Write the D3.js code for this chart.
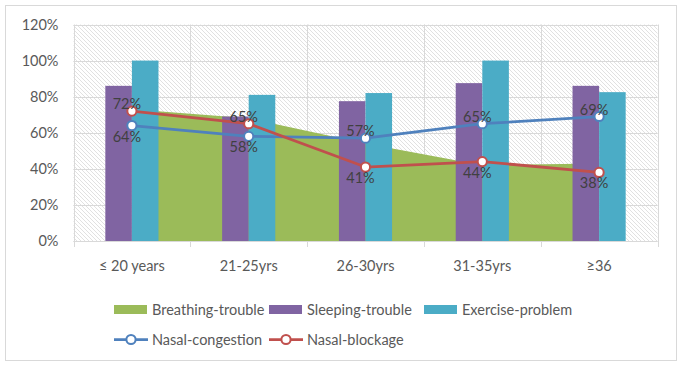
<!DOCTYPE html>
<html>
<head>
<meta charset="utf-8">
<script src="https://cdn.jsdelivr.net/npm/d3@7"></script>
<style>
  body { margin: 0; background: #fff; }
  svg text { font-family: Lato, "Open Sans", sans-serif; }
</style>
</head>
<body>
<svg id="chart" width="681" height="365"></svg>
<script>
// data
var categories = ["\u2264 20 years", "21-25yrs", "26-30yrs", "31-35yrs", "\u226536"];
var breathingTrouble = [0.73, 0.68, 0.54, 0.42, 0.43];
var sleepingTrouble = [0.86, 0.69, 0.775, 0.875, 0.86];
var exerciseProblem = [1.0, 0.81, 0.82, 1.0, 0.825];
var nasalCongestion = [0.64, 0.58, 0.57, 0.65, 0.69];
var nasalBlockage = [0.72, 0.65, 0.41, 0.44, 0.38];
var yTicks = [0, 0.2, 0.4, 0.6, 0.8, 1.0, 1.2];
var congestionLabelPos = ["below", "below", "above", "above", "above"];
var blockageLabelPos = ["above", "above", "below", "below", "below"];

function drawChart() {
    var colors = {
        breathing: "#9BBB59",
        sleeping: "#8064A2",
        exercise: "#4BACC6",
        congestion: "#4F81BD",
        blockage: "#C0504D"
    };

    var svg = d3.select("#chart");
    var plotLeft = 73.5, plotRight = 657.5, plotTop = 24.5, plotBottom = 241;
    var fontSize = 14.5;

    // outer chart border
    svg.append("rect")
        .attr("x", 5.5).attr("y", 5.5)
        .attr("width", 671).attr("height", 355)
        .attr("fill", "#fff")
        .attr("stroke", "#D9D9D9");

    // hatched plot background
    var pat = svg.append("defs").append("pattern")
        .attr("id", "hatch")
        .attr("patternUnits", "userSpaceOnUse")
        .attr("width", 4).attr("height", 4);
    pat.append("rect").attr("width", 4).attr("height", 4).attr("fill", "#fff");
    pat.append("path")
        .attr("d", "M-1,-1 L5,5 M-1,3 L1,5 M3,-1 L5,1")
        .attr("stroke", "#DEDEDE")
        .attr("stroke-width", 0.9);

    svg.append("rect")
        .attr("x", plotLeft).attr("y", plotTop)
        .attr("width", plotRight - plotLeft).attr("height", plotBottom - plotTop)
        .attr("fill", "url(#hatch)");

    var x0 = d3.scaleBand().domain(categories).range([plotLeft, plotRight]).padding(0);
    var y = d3.scaleLinear().domain([0, 1.2]).range([plotBottom, plotTop]);
    var bw = x0.bandwidth();
    var groupW = bw * 0.455;
    var x1 = d3.scaleBand().domain(["sleeping", "exercise"]).range([(bw - groupW) / 2, (bw + groupW) / 2]);
    var cx = function (c) { return x0(c) + bw / 2; };

    // horizontal gridlines
    svg.append("g")
        .selectAll("line")
        .data(yTicks)
        .enter().append("line")
        .attr("x1", plotLeft).attr("x2", plotRight)
        .attr("y1", function (d) { return Math.round(y(d)) + 0.5; })
        .attr("y2", function (d) { return Math.round(y(d)) + 0.5; })
        .attr("stroke", "#D9D9D9");

    // vertical gridlines at category boundaries, running down into tick marks
    var bounds = categories.map(function (c) { return x0(c); }).concat([plotRight]);
    svg.append("g")
        .selectAll("line")
        .data(bounds)
        .enter().append("line")
        .attr("x1", function (d) { return Math.round(d) + 0.5; })
        .attr("x2", function (d) { return Math.round(d) + 0.5; })
        .attr("y1", plotTop).attr("y2", plotBottom + 6)
        .attr("stroke", "#D9D9D9");

    // area series
    var area = d3.area()
        .x(function (d, i) { return cx(categories[i]); })
        .y0(y(0))
        .y1(function (d) { return y(d); });
    svg.append("path")
        .datum(breathingTrouble)
        .attr("d", area)
        .attr("fill", colors.breathing);

    // column series
    var barSeries = [
        { key: "sleeping", values: sleepingTrouble },
        { key: "exercise", values: exerciseProblem }
    ];
    svg.append("g")
        .selectAll("g")
        .data(barSeries)
        .enter().append("g")
        .attr("fill", function (s) { return colors[s.key]; })
        .selectAll("rect")
        .data(function (s) { return s.values.map(function (v, i) { return { key: s.key, v: v, c: categories[i] }; }); })
        .enter().append("rect")
        .attr("x", function (d) { return x0(d.c) + x1(d.key); })
        .attr("width", x1.bandwidth())
        .attr("y", function (d) { return y(d.v); })
        .attr("height", function (d) { return y(0) - y(d.v); });

    // x-axis baseline
    svg.append("line")
        .attr("x1", plotLeft).attr("x2", plotRight)
        .attr("y1", plotBottom + 0.5).attr("y2", plotBottom + 0.5)
        .attr("stroke", "#D9D9D9");

    // line series
    var lineSeries = [
        { key: "congestion", values: nasalCongestion, pos: congestionLabelPos },
        { key: "blockage", values: nasalBlockage, pos: blockageLabelPos }
    ];
    var line = d3.line()
        .x(function (d, i) { return cx(categories[i]); })
        .y(function (d) { return y(d); });

    lineSeries.forEach(function (s) {
        svg.append("path")
            .datum(s.values)
            .attr("d", line)
            .attr("fill", "none")
            .attr("stroke", colors[s.key])
            .attr("stroke-width", 2.75)
            .attr("stroke-linejoin", "round");
        svg.append("g")
            .selectAll("circle")
            .data(s.values)
            .enter().append("circle")
            .attr("cx", function (d, i) { return cx(categories[i]); })
            .attr("cy", function (d) { return y(d); })
            .attr("r", 4.6)
            .attr("fill", "#fff")
            .attr("stroke", colors[s.key])
            .attr("stroke-width", 2);
    });

    lineSeries.forEach(function (s) {
        svg.append("g")
            .selectAll("text")
            .data(s.values)
            .enter().append("text")
            .attr("x", function (d, i) { return cx(categories[i]) - 5; })
            .attr("y", function (d, i) { return y(d) + (s.pos[i] === "above" ? -2 : 16); })
            .attr("text-anchor", "middle")
            .attr("font-size", fontSize)
            .attr("fill", "#404040")
            .text(function (d) { return d3.format(".0%")(d); });
    });

    // y axis labels
    var yAxis = d3.axisLeft(y)
        .tickValues(yTicks)
        .tickFormat(d3.format(".0%"))
        .tickSize(0)
        .tickPadding(15);
    var yg = svg.append("g").attr("transform", "translate(" + plotLeft + ",0)").call(yAxis);
    yg.select(".domain").remove();

    // x axis labels
    var xAxis = d3.axisBottom(x0).tickSize(0).tickPadding(20);
    var xg = svg.append("g").attr("transform", "translate(0," + plotBottom + ")").call(xAxis);
    xg.select(".domain").remove();

    [yg, xg].forEach(function (g) {
        g.attr("font-family", null).attr("font-size", null);
        g.selectAll("text")
            .attr("font-size", fontSize)
            .attr("fill", "#595959");
    });

    // legend
    var legendItems = [
        { name: "Breathing-trouble", key: "breathing", type: "box", row: 0, col: 0 },
        { name: "Sleeping-trouble", key: "sleeping", type: "box", row: 0, col: 1 },
        { name: "Exercise-problem", key: "exercise", type: "box", row: 0, col: 2 },
        { name: "Nasal-congestion", key: "congestion", type: "line", row: 1, col: 0 },
        { name: "Nasal-blockage", key: "blockage", type: "line", row: 1, col: 1 }
    ];
    var legX = 114, legColW = 155, legRowY = [309.5, 339.5];
    var leg = svg.append("g")
        .selectAll("g")
        .data(legendItems)
        .enter().append("g")
        .attr("transform", function (d) { return "translate(" + (legX + d.col * legColW) + "," + legRowY[d.row] + ")"; });
    leg.filter(function (d) { return d.type === "box"; })
        .append("rect")
        .attr("x", 0).attr("y", -4.5)
        .attr("width", 33).attr("height", 9)
        .attr("fill", function (d) { return colors[d.key]; });
    leg.filter(function (d) { return d.type === "line"; })
        .append("line")
        .attr("x1", 0).attr("x2", 34)
        .attr("stroke", function (d) { return colors[d.key]; })
        .attr("stroke-width", 2.75);
    leg.filter(function (d) { return d.type === "line"; })
        .append("circle")
        .attr("cx", 17).attr("r", 4.6)
        .attr("fill", "#fff")
        .attr("stroke", function (d) { return colors[d.key]; })
        .attr("stroke-width", 2);
    leg.append("text")
        .attr("x", 38)
        .attr("dy", "0.35em")
        .attr("font-size", fontSize)
        .attr("fill", "#595959")
        .text(function (d) { return d.name; });
}

drawChart();
</script>
</body>
</html>
